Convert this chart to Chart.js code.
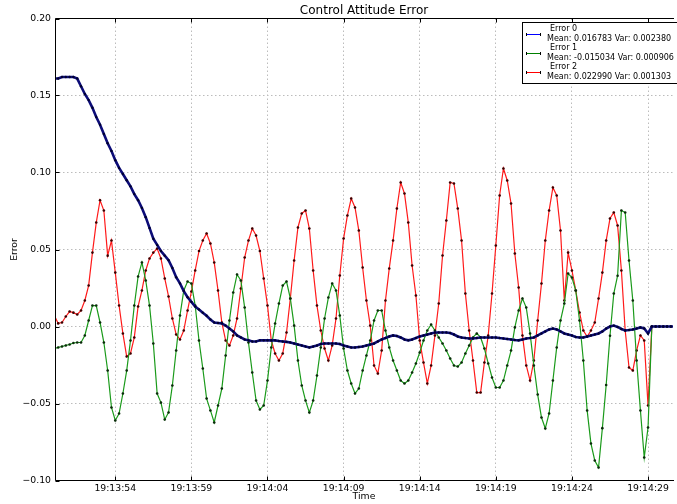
<!DOCTYPE html>
<html>
<head>
<meta charset="utf-8">
<script src="https://cdn.jsdelivr.net/npm/chart.js@4.4.1/dist/chart.umd.min.js"></script>
<style>
  html, body { margin:0; padding:0; background:#fff; overflow:hidden; }
  canvas { display:block; }
</style>
</head>
<body>
<canvas id="chart" width="677" height="504"></canvas>
<script>
// samples every 0.25 s, t = 0 is 19:13:50
const STEP = 0.25;

const error0 = [
  0.161,0.161,0.162,0.162,0.162,0.162,0.161,0.156,0.151,0.147,
  0.142,0.136,0.131,0.125,0.119,0.114,0.108,0.103,0.099,0.095,
  0.091,0.086,0.082,0.077,0.071,0.064,0.057,0.053,0.049,0.046,
  0.043,0.038,0.032,0.028,0.023,0.019,0.016,0.013,0.011,0.009,
  0.007,0.0045,0.0026,0.0023,0.002,0.0006,-0.0013,-0.0032,-0.0058,-0.0071,
  -0.0084,-0.009,-0.0097,-0.0097,-0.009,-0.009,-0.009,-0.009,-0.009,-0.0094,
  -0.0097,-0.010,-0.0104,-0.011,-0.0117,-0.0123,-0.013,-0.0136,-0.013,-0.0123,
  -0.0114,-0.011,-0.011,-0.011,-0.011,-0.0114,-0.0123,-0.013,-0.0136,-0.0136,
  -0.0133,-0.013,-0.0123,-0.0117,-0.011,-0.0097,-0.0084,-0.0075,-0.0065,-0.0058,
  -0.0062,-0.0071,-0.0084,-0.009,-0.0084,-0.0075,-0.0065,-0.0058,-0.0052,-0.0045,
  -0.0039,-0.0039,-0.0039,-0.0039,-0.0042,-0.0052,-0.0065,-0.0071,-0.0075,-0.0078,
  -0.0078,-0.0075,-0.0071,-0.0071,-0.0071,-0.0071,-0.0071,-0.0075,-0.0078,-0.0081,
  -0.0084,-0.0088,-0.009,-0.0084,-0.0078,-0.0075,-0.0071,-0.0058,-0.0045,-0.0032,
  -0.0019,-0.0013,-0.0019,-0.0032,-0.0045,-0.0052,-0.0058,-0.0068,-0.0071,-0.0071,
  -0.0065,-0.0058,-0.0052,-0.0045,-0.0032,-0.0013,0.000,0.0006,-0.0003,-0.0016,
  -0.0026,-0.0023,-0.0019,-0.0013,-0.0006,-0.0013,-0.0045,
  0,0,0,0,0,0,0
];

const error1 = [
  -0.0143,-0.0136,-0.013,-0.0123,-0.0117,-0.0107,-0.0104,-0.0104,-0.0058,0.0039,
  0.0136,0.0136,0.0026,-0.0104,-0.0286,-0.0526,-0.061,-0.0565,-0.0435,-0.0286,
  -0.0091,0.0136,0.0325,0.0416,0.0299,0.0136,-0.011,-0.0435,-0.0494,-0.0604,
  -0.0558,-0.0383,-0.0156,0.0071,0.0234,0.0292,0.0279,0.0136,-0.0091,-0.0273,
  -0.0468,-0.0545,-0.0623,-0.0513,-0.0403,-0.0188,0.0039,0.0221,0.0338,0.0299,
  0.0123,-0.0104,-0.0299,-0.0481,-0.0539,-0.0513,-0.0351,-0.0136,0.0019,0.0149,
  0.0266,0.0292,0.0182,0.0006,-0.0221,-0.0383,-0.0481,-0.0558,-0.0481,-0.0318,
  -0.0136,0.0052,0.0188,0.0279,0.0234,0.0071,-0.0143,-0.0286,-0.037,-0.0435,
  -0.0403,-0.0286,-0.0188,-0.0091,0.0039,0.0104,0.0104,-0.0026,-0.0136,-0.0221,
  -0.0286,-0.0351,-0.037,-0.0351,-0.0299,-0.024,-0.0169,-0.0091,-0.0026,0.0013,
  -0.0026,-0.0071,-0.011,-0.0156,-0.0208,-0.0253,-0.026,-0.0234,-0.0175,-0.0123,
  -0.0071,-0.0045,-0.0071,-0.0143,-0.024,-0.0331,-0.0396,-0.0396,-0.0351,-0.0253,
  -0.0156,-0.0006,0.0104,0.0182,0.0123,-0.0045,-0.0253,-0.0442,-0.0591,-0.0662,
  -0.0565,-0.0351,-0.0136,0.0039,0.0149,0.0344,0.0318,0.0234,0.0039,-0.0221,
  -0.0545,-0.076,-0.087,-0.0916,-0.066,-0.038,-0.006,0.0214,0.033,0.0753,
  0.074,0.0429,0.0169,-0.0221,-0.0545,-0.0851,-0.0656,
  0,0,0,0,0,0,0
];

const error2 = [
  0.007,0.002,0.0026,0.0065,0.0097,0.009,0.0078,0.0104,0.0169,0.0266,
  0.048,0.0675,0.082,0.0753,0.046,0.0558,0.035,0.0136,-0.0045,-0.0195,
  -0.0175,-0.0071,0.013,0.0234,0.0364,0.0442,0.048,0.0506,0.0442,0.0312,
  0.0195,0.0052,-0.0052,-0.0084,-0.0026,0.0104,0.0227,0.0364,0.049,0.0558,
  0.0604,0.0539,0.0416,0.0234,0.0026,-0.0091,-0.0123,-0.0058,0.0052,0.0247,
  0.0448,0.0558,0.0636,0.0591,0.049,0.0312,0.0136,-0.0091,-0.0175,-0.0221,
  -0.0175,-0.0039,0.0182,0.0429,0.0643,0.0734,0.0753,0.0636,0.0364,0.0136,
  -0.0026,-0.0143,-0.0221,-0.0123,0.0052,0.0331,0.0571,0.0721,0.0831,0.0773,
  0.0623,0.0383,0.0169,0.0006,-0.0253,-0.0305,-0.0156,0.0169,0.0377,0.0558,
  0.0766,0.0935,0.0864,0.0675,0.0396,0.0201,-0.0091,-0.0234,-0.037,-0.0253,
  -0.0058,0.0149,0.0461,0.0688,0.0935,0.0929,0.0766,0.0558,0.0214,-0.0026,
  -0.0221,-0.0429,-0.0429,-0.0234,-0.0058,0.0214,0.0526,0.0851,0.1026,0.0948,
  0.0799,0.0474,0.0253,-0.0058,-0.0253,-0.0351,-0.0221,0.0039,0.0279,0.0558,
  0.0753,0.0903,0.0851,0.0623,0.0169,0.048,0.0364,0.0234,0.0091,-0.0026,
  -0.0065,-0.0026,0.0026,0.0182,0.035,0.0558,0.0701,0.074,0.0656,0.0364,
  -0.0026,-0.0266,-0.0286,-0.0156,-0.0058,-0.0091,-0.0513,
  0,0,0,0,0,0,0
];

const tickSeconds = [4, 9, 14, 19, 24, 29, 34, 39];
const tickLabels = ['19:13:54','19:13:59','19:14:04','19:14:09','19:14:14','19:14:19','19:14:24','19:14:29'];

const legendItems = [
  { name: 'Error 0', stats: 'Mean: 0.016783 Var: 0.002380', color: '#0000ff' },
  { name: 'Error 1', stats: 'Mean: -0.015034 Var: 0.000906', color: '#008000' },
  { name: 'Error 2', stats: 'Mean: 0.022990 Var: 0.001303', color: '#ff0000' }
];

const FONT = 'DejaVu Sans';
const toPoints = arr => arr.map((v, i) => ({ x: i * STEP, y: v }));

// matplotlib-ish frame, inward ticks, title, axis labels and legend
const decor = {
  id: 'decor',
  afterDraw(chart) {
    const { ctx, chartArea: a, scales } = chart;
    const L = Math.floor(a.left) + 0.5, T = Math.floor(a.top) + 0.5, B = Math.floor(a.bottom) + 0.5;
    ctx.save();
    ctx.strokeStyle = '#000'; ctx.lineWidth = 1;
    ctx.beginPath();
    ctx.moveTo(a.right + 1, T); ctx.lineTo(L, T); ctx.lineTo(L, B); ctx.lineTo(a.right + 1, B);
    ctx.stroke();
    // ticks
    ctx.beginPath();
    scales.y.ticks.forEach(t => {
      const y = Math.round(scales.y.getPixelForValue(t.value)) + 0.5;
      ctx.moveTo(L, y); ctx.lineTo(L + 4, y);
    });
    tickSeconds.forEach(s => {
      const x = Math.round(scales.x.getPixelForValue(s)) + 0.5;
      ctx.moveTo(x, B); ctx.lineTo(x, B - 4);
      ctx.moveTo(x, T); ctx.lineTo(x, T + 4);
    });
    ctx.stroke();

    // texts
    ctx.fillStyle = '#000';
    ctx.textAlign = 'center'; ctx.textBaseline = 'middle';
    ctx.font = `12px "${FONT}"`;
    ctx.fillText('Control Attitude Error', (a.left + a.right) / 2, 11);
    ctx.font = `9.3px "${FONT}"`;
    ctx.fillText('Time', (a.left + a.right) / 2, 497);
    ctx.save();
    ctx.translate(15, (a.top + a.bottom) / 2);
    ctx.rotate(-Math.PI / 2);
    ctx.fillText('Error', 0, 0);
    ctx.restore();

    // legend
    ctx.fillStyle = '#fff';
    ctx.fillRect(522.5, 22.5, 170, 61);
    ctx.strokeRect(522.5, 22.5, 170, 61);
    ctx.font = `8px "${FONT}"`;
    ctx.textAlign = 'left';
    legendItems.forEach((it, i) => {
      const y0 = 29 + i * 19.2;
      ctx.fillStyle = '#000';
      ctx.fillText(it.name, 550, y0);
      ctx.fillText(it.stats, 547, y0 + 10);
      const ly = Math.round(y0 + 4.5) + 0.5;
      ctx.strokeStyle = it.color; ctx.lineWidth = 1;
      ctx.beginPath(); ctx.moveTo(526, ly); ctx.lineTo(541, ly); ctx.stroke();
      ctx.strokeStyle = '#000';
      ctx.beginPath();
      [526.5, 540.5].forEach(x => { ctx.moveTo(x, ly - 1.5); ctx.lineTo(x, ly + 1.5); });
      ctx.stroke();
    });
    ctx.restore();
  }
};

const gridOpts = { color: '#bcbcbc', lineWidth: 1, drawTicks: false };
const borderOpts = { display: false, dash: [1.5, 2.5] };

new Chart(document.getElementById('chart'), {
  type: 'line',
  data: {
    datasets: [
      { label: 'Error 0', data: toPoints(error0), borderColor: '#0c0c78', borderWidth: 2.6,
        pointRadius: 1.2, pointBackgroundColor: '#000030', pointBorderWidth: 0, tension: 0 },
      { label: 'Error 1', data: toPoints(error1), borderColor: '#1a9a1a', borderWidth: 1.2,
        pointRadius: 1.3, pointBackgroundColor: '#0a2a0a', pointBorderWidth: 0, tension: 0 },
      { label: 'Error 2', data: toPoints(error2), borderColor: '#ff1a1a', borderWidth: 1.2,
        pointRadius: 1.3, pointBackgroundColor: '#3a0000', pointBorderWidth: 0, tension: 0 }
    ]
  },
  options: {
    responsive: false,
    animation: false,
    events: [],
    layout: { padding: { top: 18.5, left: 0, right: 0, bottom: 0 } },
    plugins: { legend: { display: false }, tooltip: { enabled: false }, title: { display: false } },
    scales: {
      x: {
        type: 'linear', min: 0.04, max: 40.64,
        afterBuildTicks: s => { s.ticks = tickSeconds.map(v => ({ value: v })); },
        afterFit: s => { s.height = 23.5; },
        ticks: { callback: (v, i) => tickLabels[i], color: '#000', padding: 3,
                 font: { family: FONT, size: 9.3 }, maxRotation: 0, autoSkip: false },
        grid: gridOpts, border: borderOpts
      },
      y: {
        min: -0.10, max: 0.20,
        afterFit: s => { s.width = 55; },
        ticks: { stepSize: 0.05, color: '#000', padding: 4,
                 font: { family: FONT, size: 9.3 },
                 callback: v => { const s = Math.abs(v).toFixed(2); return v < -1e-9 ? '\u2212' + s : s; } },
        grid: gridOpts, border: borderOpts
      }
    }
  },
  plugins: [decor]
});
</script>
</body>
</html>
